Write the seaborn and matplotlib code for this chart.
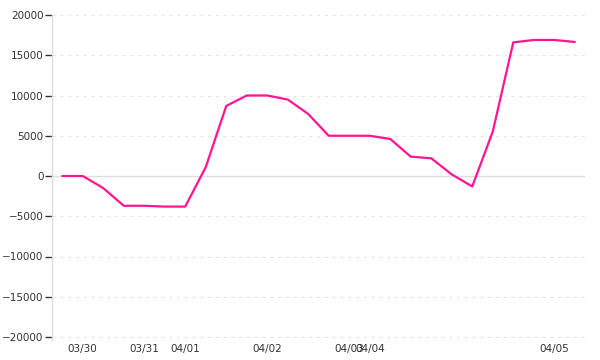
import matplotlib
matplotlib.use("Agg")
import matplotlib.pyplot as plt
import seaborn as sns
import pandas as pd
import numpy as np

values = [0, 0, -1500, -3700, -3700, -3800, -3800, 1100, 8700, 10000,
          10000, 9500, 7700, 5000, 5000, 5000, 4600, 2400, 2200, 200,
          -1300, 5500, 16600, 16900, 16900, 16650]
tick_positions = [1, 4, 6, 10, 14, 15, 24]
tick_labels = ["03/30", "03/31", "04/01", "04/02", "04/03", "04/04", "04/05"]
y_ticks = [20000, 15000, 10000, 5000, 0, -5000, -10000, -15000, -20000]

df = pd.DataFrame({"idx": np.arange(len(values)), "value": values})

sns.set_style("white")
plt.rcParams["font.family"] = ["DejaVu Sans"]

fig = plt.figure(figsize=(6, 3.6), dpi=100)
top_px, bot_px = 15, 340
ax = fig.add_axes([52/600, 1 - bot_px/360, (585-52)/600, (bot_px-top_px)/360])

for yt in y_ticks:
    if yt == 0:
        ax.axhline(yt, color="#dddddd", lw=1.0, zorder=1)
    else:
        ax.axhline(yt, color="#e6e6e6", lw=0.8, ls=(0, (3, 4)), zorder=1)

sns.lineplot(data=df, x="idx", y="value", ax=ax, color="#ff1493", lw=1.6, zorder=3)

ax.set_xlim(-0.5, 25.5)
# -20000 sits at pixel 337, 20000 at pixel 15
ax.set_ylim(-20000 - 3 * 40000 / 322, 20000)
ax.set_yticks(y_ticks)
ax.set_yticklabels([str(v).replace("-", "\u2212") for v in y_ticks], fontsize=7.5, color="#333333")
ax.set_xticks(tick_positions)
ax.set_xticklabels(tick_labels, fontsize=7.5, color="#333333")
ax.tick_params(axis="y", length=5, width=1, color="#333333", pad=1, left=True)
ax.tick_params(axis="x", length=0, pad=3)
ax.set_xlabel("")
ax.set_ylabel("")
for s in ["top", "right", "bottom"]:
    ax.spines[s].set_visible(False)
ax.spines["left"].set_color("#dddddd")
ax.spines["left"].set_linewidth(1)

fig.savefig("out.png", dpi=100)
